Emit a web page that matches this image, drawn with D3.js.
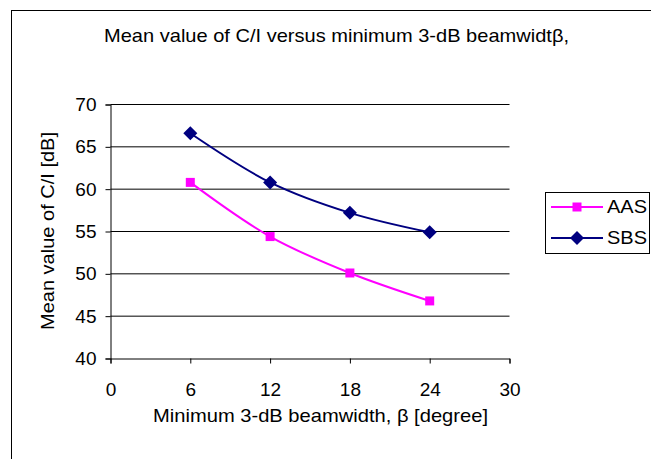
<!DOCTYPE html>
<html>
    <head>
        <meta charset="utf-8"/>
        <script src="https://cdnjs.cloudflare.com/ajax/libs/d3/7.8.5/d3.min.js"></script>
        <style>
            body { margin: 0; background: #fff; }
            text { font-family: "Liberation Sans", Arial, sans-serif; fill: #000; }
        </style>
    </head>
    <body>
        <script>
            // data
            const beamwidths = [6, 12, 18, 24];
            const aasValues = [60.8, 54.4, 50.1, 46.8];
            const sbsValues = [66.6, 60.8, 57.2, 54.9];
            const xTicks = [0, 6, 12, 18, 24, 30];
            const yTicks = [40, 45, 50, 55, 60, 65, 70];

            const width = 651, height = 459;
            const svg = d3.select('body').append('svg')
                .attr('width', width)
                .attr('height', height);

            // outer chart frame (runs off the right and bottom)
            svg.append('rect')
                .attr('x', 11.5).attr('y', 10.5)
                .attr('width', 700).attr('height', 500)
                .attr('fill', 'none')
                .attr('stroke', '#000')
                .attr('stroke-width', 1);

            // the source picture's text is a little wider than Arial, so stretch the long labels
            svg.append('text')
                .attr('x', 336.5).attr('y', 42)
                .attr('text-anchor', 'middle')
                .attr('font-size', 19)
                .attr('textLength', 465)
                .attr('lengthAdjust', 'spacingAndGlyphs')
                .text('Mean value of C/I versus minimum 3-dB beamwidtβ,');

            const x = d3.scaleLinear().domain([0, 30]).range([110.5, 509.5]);
            const y = d3.scaleLinear().domain([40, 70]).range([358.5, 104.5]);

            // gridlines
            svg.append('g')
                .selectAll('line')
                .data(yTicks.filter(d => d > 40))
                .join('line')
                .attr('x1', x(0)).attr('x2', x(30))
                .attr('y1', d => y(d)).attr('y2', d => y(d))
                .attr('stroke', '#000')
                .attr('stroke-width', 1);

            const yAxis = svg.append('g')
                .attr('transform', `translate(${x(0)},0)`)
                .call(d3.axisLeft(y).tickValues(yTicks).tickSize(5).tickPadding(9));
            const xAxis = svg.append('g')
                .attr('transform', `translate(0,${y(40)})`)
                .call(d3.axisBottom(x).tickValues(xTicks).tickSize(5).tickPadding(19));

            [yAxis, xAxis].forEach(a => {
                a.select('.domain').attr('stroke', '#000');
                a.selectAll('.tick line').attr('stroke', '#000');
                a.selectAll('text')
                    .attr('font-size', 19)
                    .attr('font-family', '"Liberation Sans", Arial, sans-serif')
                    .attr('fill', '#000');
            });

            svg.append('text')
                .attr('x', 320.5).attr('y', 421.5)
                .attr('text-anchor', 'middle')
                .attr('font-size', 18.5)
                .attr('textLength', 335)
                .attr('lengthAdjust', 'spacingAndGlyphs')
                .text('Minimum 3-dB beamwidth, β [degree]');

            svg.append('text')
                .attr('transform', 'translate(54,231) rotate(-90)')
                .attr('text-anchor', 'middle')
                .attr('font-size', 18.5)
                .attr('textLength', 198)
                .attr('lengthAdjust', 'spacingAndGlyphs')
                .text('Mean value of C/I [dB]');

            const series = [
                {name: 'AAS', values: aasValues, color: '#ff00ff', size: 81, rot: 0},
                {name: 'SBS', values: sbsValues, color: '#000080', size: 98, rot: 45}
            ];

            const line = d3.line()
                .x((d, i) => x(beamwidths[i]))
                .y(d => y(d))
                .curve(d3.curveCatmullRom);

            series.forEach(s => {
                svg.append('path')
                    .datum(s.values)
                    .attr('fill', 'none')
                    .attr('stroke', s.color)
                    .attr('stroke-width', 2)
                    .attr('d', line);
                svg.append('g')
                    .selectAll('path')
                    .data(s.values)
                    .join('path')
                    .attr('transform', (d, i) => `translate(${x(beamwidths[i])},${y(d)}) rotate(${s.rot})`)
                    .attr('d', d3.symbol().type(d3.symbolSquare).size(s.size))
                    .attr('fill', s.color);
            });

            // legend
            const legend = svg.append('g');
            legend.append('rect')
                .attr('x', 545.5).attr('y', 192.5)
                .attr('width', 104).attr('height', 61)
                .attr('fill', '#fff')
                .attr('stroke', '#000');
            series.forEach((s, i) => {
                const ly = 207 + i * 31;
                legend.append('line')
                    .attr('x1', 551).attr('x2', 603)
                    .attr('y1', ly).attr('y2', ly)
                    .attr('stroke', s.color)
                    .attr('stroke-width', 2);
                legend.append('path')
                    .attr('transform', `translate(577,${ly}) rotate(${s.rot})`)
                    .attr('d', d3.symbol().type(d3.symbolSquare).size(s.size))
                    .attr('fill', s.color);
                legend.append('text')
                    .attr('x', 607).attr('y', ly + 6)
                    .attr('font-size', 18.5)
                    .attr('textLength', 40)
                    .attr('lengthAdjust', 'spacingAndGlyphs')
                    .text(s.name);
            });
        </script>
    </body>
</html>
